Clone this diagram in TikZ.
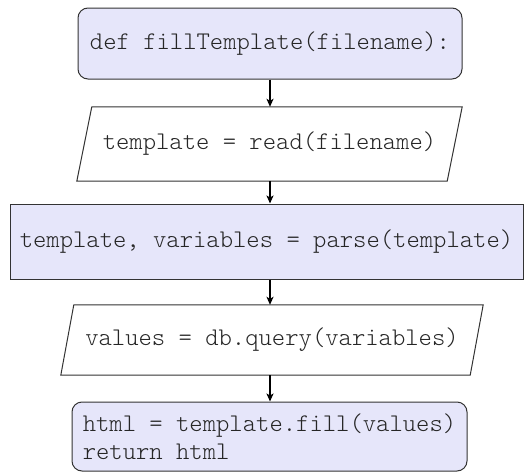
\documentclass[tikz,border=0pt]{standalone}
\usepackage{fontspec}
\setmonofont{Latin Modern Mono Light}
\usetikzlibrary{arrows.meta}
\definecolor{boxfill}{HTML}{E6E6FA}
\definecolor{boxline}{HTML}{333333}
\begin{document}
\begin{tikzpicture}[x=1pt,y=-1pt,
  code/.style={font=\ttfamily\fontsize{25.4}{28}\selectfont, text=black!85},
  roundbox/.style={code, draw=boxline, line width=1pt, fill=boxfill, rounded corners=10pt},
  plainbox/.style={code, draw=boxline, line width=1pt, fill=boxfill},
  slantbox/.style={code, inner sep=0pt},
  flow/.style={line width=1.6pt, -{Stealth[length=8pt,width=7pt,inset=2pt]}}
]
\useasboundingbox (0,0) rectangle (525,474);

% start of the function
\node[roundbox, minimum width=384pt, minimum height=71pt] (b1) at (270,43.5) {def fillTemplate(filename):};

% read the template (input parallelogram)
\node[slantbox, minimum width=385pt, minimum height=74pt] (b2) at (269.5,144) {template = read(filename)};
\draw[boxline, line width=1pt] ([xshift=15pt]b2.north west) -- (b2.north east)
  -- ([xshift=-15pt]b2.south east) -- (b2.south west) -- cycle;

% parse step
\node[plainbox, minimum width=513pt, minimum height=75pt] (b3) at (266.5,241.5) {template, variables = parse(template)};

% query the database (input parallelogram)
\node[slantbox, minimum width=422pt, minimum height=70pt] (b4) at (272,340) {values = db.query(variables)};
\draw[boxline, line width=1pt] ([xshift=13pt]b4.north west) -- (b4.north east)
  -- ([xshift=-13pt]b4.south east) -- (b4.south west) -- cycle;

% fill and return
\node[roundbox, minimum width=395pt, minimum height=69pt, align=left] (b5) at (269.5,436.5) {html = template.fill(values)\\return html\hspace*{16\fontcharwd\font`x}};

% connectors
\draw[flow] (b1.south) -- (b1.south |- b2.north);
\draw[flow] (b1.south |- b2.south) -- (b1.south |- b3.north);
\draw[flow] (b1.south |- b3.south) -- (b1.south |- b4.north);
\draw[flow] (b1.south |- b4.south) -- (b1.south |- b5.north);
\end{tikzpicture}
\end{document}
